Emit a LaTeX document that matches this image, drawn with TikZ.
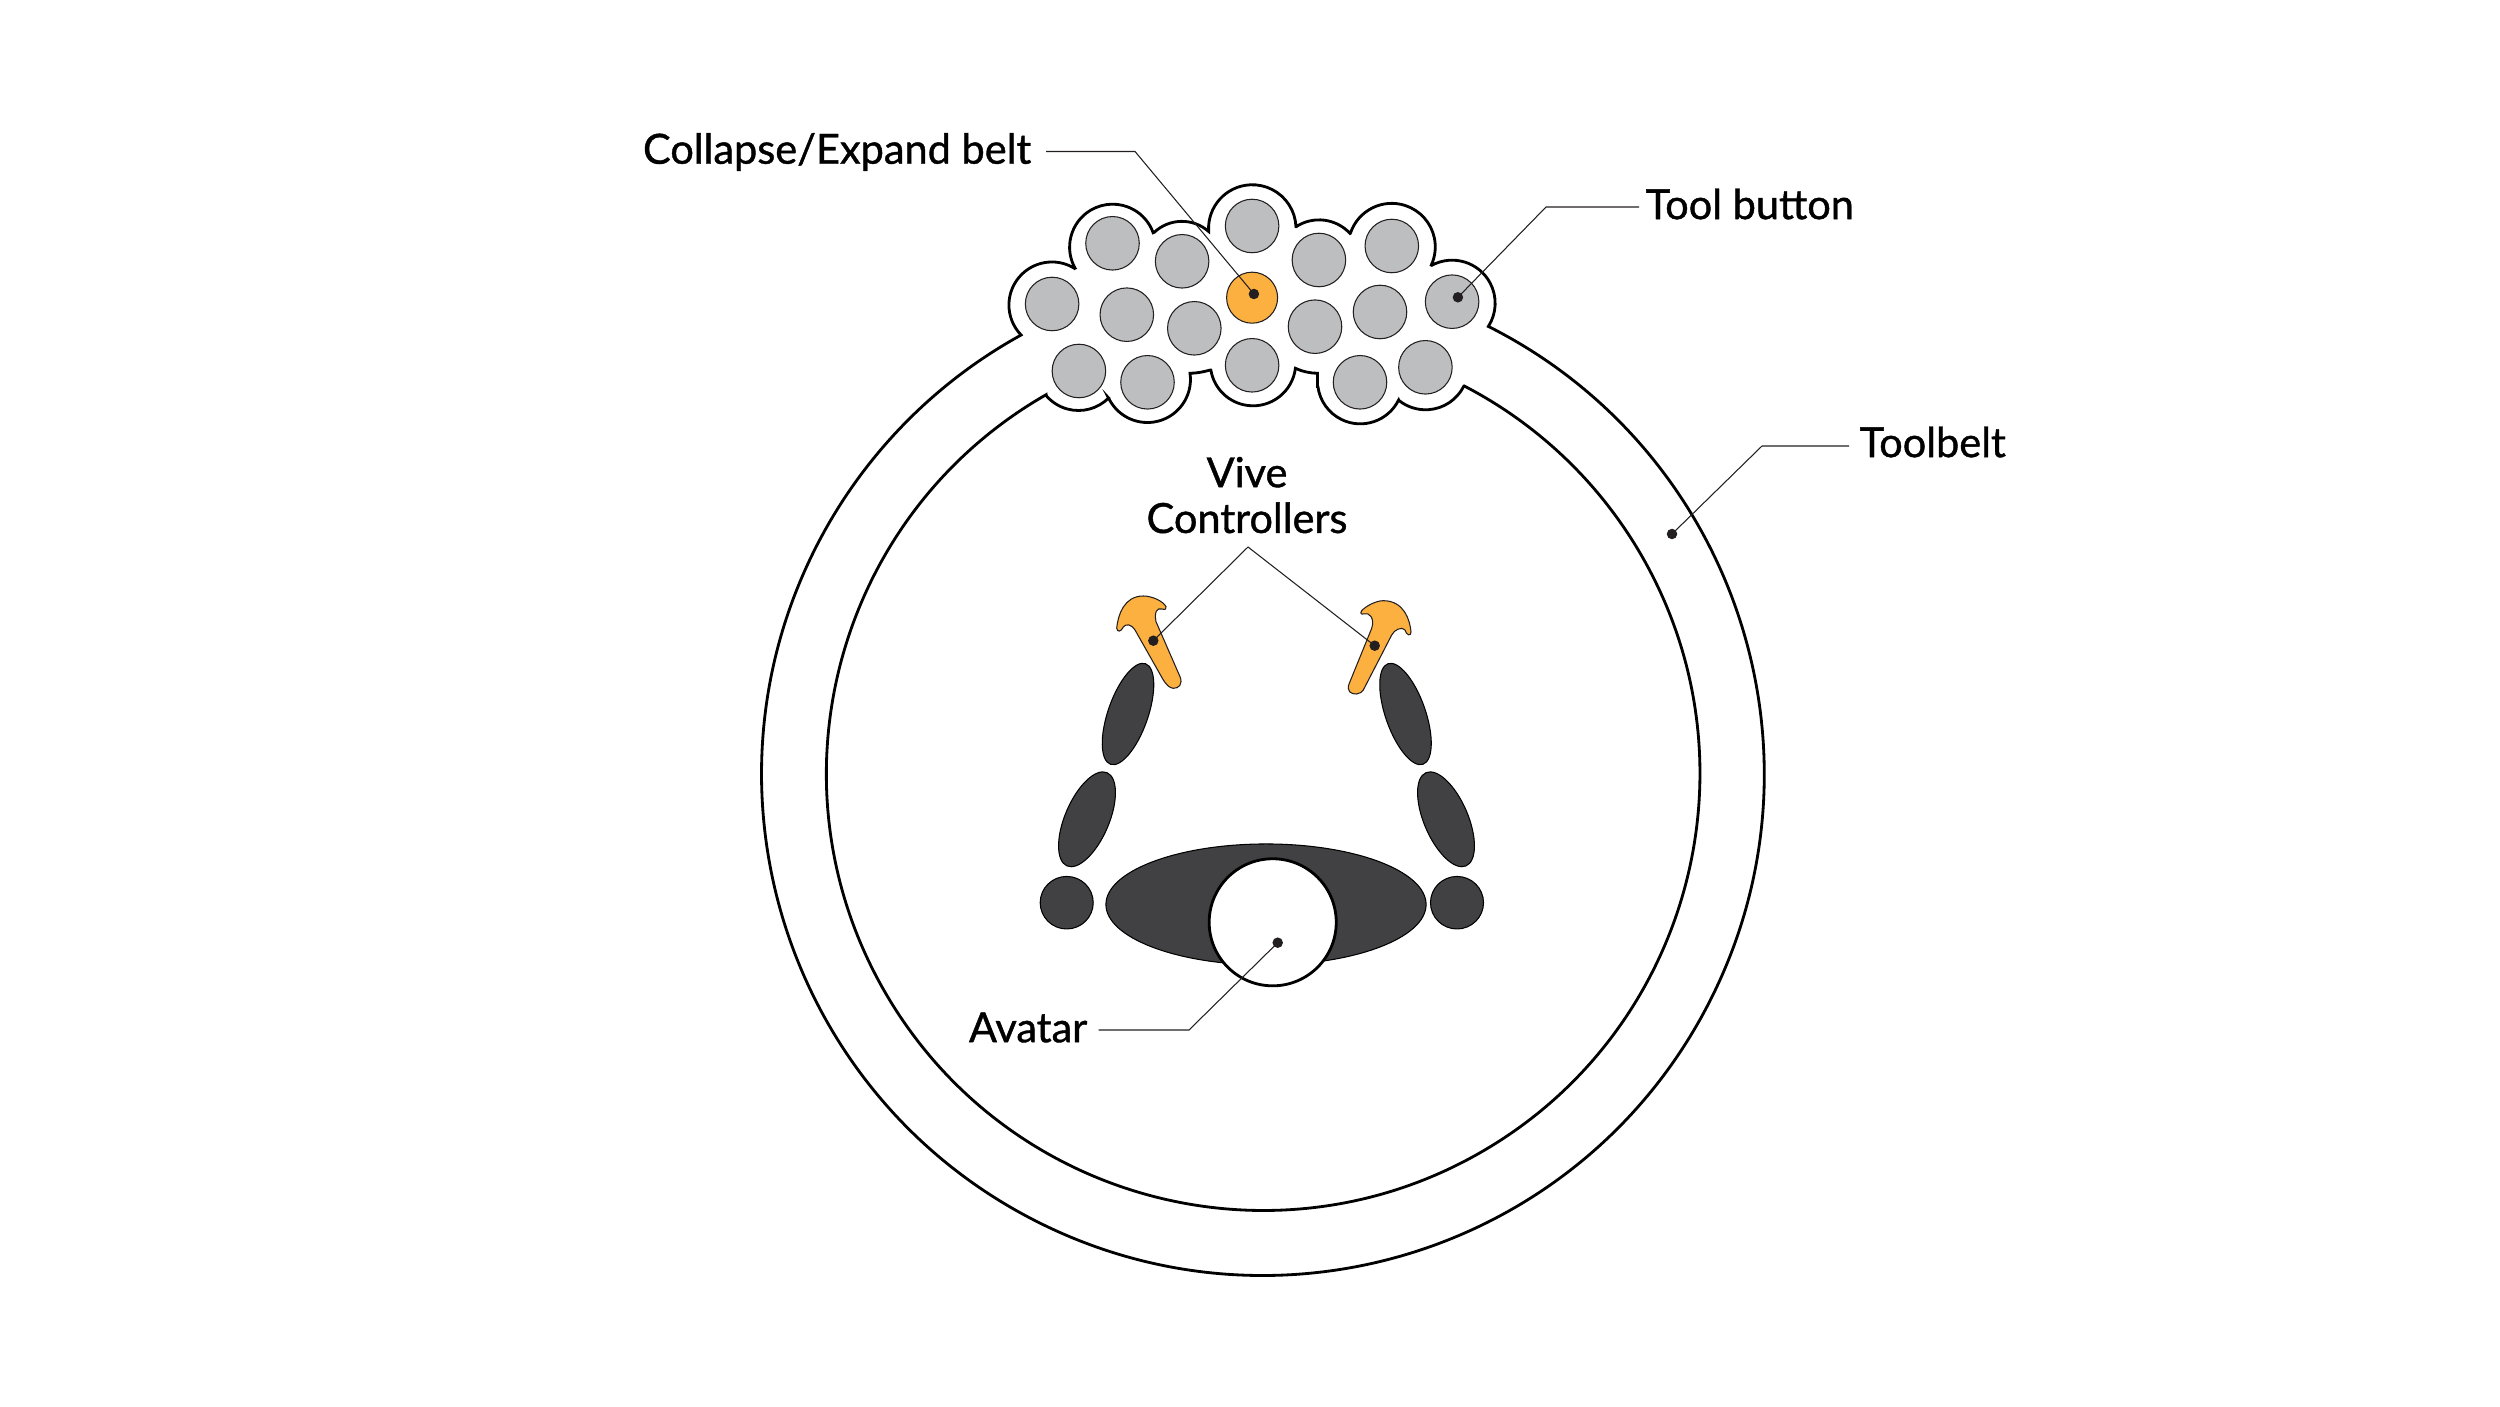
\documentclass[tikz,border=0pt]{standalone}
\usepackage{fontspec}
\setmainfont{Lato}
\newfontfamily\lblfont{Lato}[RawFeature={embolden=1.0}]
\usetikzlibrary{shapes.geometric}
\definecolor{buttonGray}{HTML}{BCBEC0}
\definecolor{accentOrange}{HTML}{FBB040}
\definecolor{bodyDark}{HTML}{414042}
\definecolor{inkBlack}{HTML}{231F20}
\tikzset{
  beltline/.style={draw=black,line width=0.8pt,fill=white,line join=miter},
  toolbtn/.style={circle,draw=inkBlack,line width=0.3pt,fill=buttonGray,inner sep=0pt,minimum size=0.535cm},
  limb/.style={ellipse,draw=black,line width=0.3pt,fill=bodyDark,inner sep=0pt},
  pointdot/.style={circle,fill=inkBlack,inner sep=0pt,minimum size=0.105cm},
  leader/.style={draw=inkBlack,line width=0.3pt},
  lbl/.style={font=\lblfont\fontsize{11.8}{13}\selectfont,text=black,inner sep=0pt,align=center},
}
\begin{document}
\begin{tikzpicture}[x=0.01cm,y=-0.01cm]
\path[use as bounding box] (0,0) rectangle (2500,1407);
% ring with the lobes of the belt
\draw[beltline] (1021.1,335) arc[start angle=224.2,end angle=56.6,radius=0.43cm]
  -- (1075.7,269.3) arc[start angle=210.9,end angle=19.6,radius=0.43cm]
  -- (1154.3,232.3) arc[start angle=133.2,end angle=48.5,radius=0.403cm]
  -- (1208.6,230.7) arc[start angle=182.9,end angle=2.4,radius=0.437cm]
  -- (1296.1,226.7) arc[start angle=123.1,end angle=42.5,radius=0.42cm]
  -- (1350.4,233.3) arc[start angle=161.8,end angle=-24.7,radius=0.435cm]
  -- (1431.8,265.3) arc[start angle=118.2,end angle=-32.7,radius=0.43cm]
  -- (1488.9,326.7) arc[start angle=63.2,end angle=-241.1,radius=5.01cm]
  -- cycle;
\draw[beltline] (1463.9,386) arc[start angle=-26.3,end angle=-129,radius=0.427cm]
  -- (1398.6,400) arc[start angle=-26.2,end angle=-172.4,radius=0.427cm]
  -- (1317.5,386.7) -- (1317.5,373.3) .. controls (1310,373.2) and (1302,371.5) .. (1295.4,368.3)
  arc[start angle=-7,end angle=-170.6,radius=0.427cm]
  -- (1210.4,370) .. controls (1203,372) and (1197,373.2) .. (1190,373.3)
  arc[start angle=8.3,end angle=-154.6,radius=0.43cm]
  -- (1108.6,398) arc[start angle=-44.9,end angle=-139.5,radius=0.425cm]
  -- (1046.1,394.7) arc[start angle=119.8,end angle=422.6,radius=4.365cm]
  -- cycle;
% tool buttons
\foreach \n/\px/\py in {1/1112.5/243.3,2/1182.1/261.3,3/1252.1/226,4/1318.9/260,5/1391.8/246,
  6/1052.1/304,7/1126.8/314.7,8/1194.3/328.3,9/1315/326.7,10/1380/312,11/1452.1/301.7,
  12/1078.9/371,13/1147.5/382.3,14/1252.1/365.3,15/1360/382.3,16/1425.4/367.3}{
  \node[toolbtn] (btn\n) at (\px,\py) {};
}
\node[toolbtn,fill=accentOrange,minimum size=0.51cm] (btnCollapse) at (1252.1,297.7) {};
% avatar
\node[limb,minimum width=3.2cm,minimum height=1.21cm] (torso) at (1266,904.5) {};
\node[circle,draw=black,line width=0.8pt,fill=white,inner sep=0pt,minimum size=1.27cm] (head) at (1272.7,922.3) {};
\node[limb,minimum width=0.53cm,minimum height=0.525cm] (handLeft) at (1066.7,902.7) {};
\node[limb,minimum width=0.53cm,minimum height=0.525cm] (handRight) at (1457,902.7) {};
\node[limb,minimum width=1.014cm,minimum height=0.44cm,rotate=66.8] (armLowLeft) at (1087,819.3) {};
\node[limb,minimum width=1.014cm,minimum height=0.44cm,rotate=113.2] (armLowRight) at (1446,819.3) {};
\node[limb,minimum width=1.064cm,minimum height=0.40cm,rotate=70.8] (armUpLeft) at (1128,714) {};
\node[limb,minimum width=1.064cm,minimum height=0.40cm,rotate=109.2] (armUpRight) at (1405.5,714) {};
% controllers
\draw[draw=inkBlack,line width=0.3pt,fill=accentOrange] (1166,606.7) .. controls (1167,609) and (1165,610) .. (1162,609)
  .. controls (1157,607.5) and (1154,612) .. (1156,621.7) -- (1180,676.7)
  .. controls (1183,684) and (1179,688.5) .. (1173.3,688.3) .. controls (1169,688) and (1166,684) .. (1163.3,680)
  -- (1135,630) .. controls (1131,624) and (1126,623.5) .. (1123.3,627) .. controls (1121,632) and (1117,632.5) .. (1116.7,628)
  .. controls (1118,615) and (1124,596) .. (1143.3,596) .. controls (1152,596) and (1163,601) .. (1166,606.7) -- cycle;
\draw[draw=inkBlack,line width=0.3pt,fill=accentOrange] (1361.7,610.7) .. controls (1360,613) and (1361,615) .. (1364,613.8)
  .. controls (1369,612) and (1375,618) .. (1371.7,628.3) -- (1349.3,683.3)
  .. controls (1346,691) and (1351,694.5) .. (1356.7,694) .. controls (1360,693.5) and (1362,692) .. (1363.3,690)
  -- (1391.7,635) .. controls (1394,630) and (1402,626) .. (1405,630) .. controls (1406,635) and (1411,637) .. (1411,632)
  .. controls (1410,620) and (1404,600.7) .. (1383.3,600.7) .. controls (1376,600.7) and (1366,606) .. (1361.7,610.7) -- cycle;
% labels
\node[lbl,anchor=east] (lblCollapse) at (1032,152) {Collapse/Expand belt};
\node[lbl,anchor=west] (lblTool) at (1645,204) {Tool button};
\node[lbl,anchor=west] (lblBelt) at (1859,442) {Toolbelt};
\node[lbl,anchor=south] (lblVive) at (1247,534) {Vive\\Controllers};
\node[lbl,anchor=east] (lblAvatar) at (1088,1027.5) {Avatar};
% leader ends
\coordinate (startCollapse) at (1046,151.5);
\coordinate (elbowCollapse) at (1135,151.5);
\coordinate (startTool) at (1639,207);
\coordinate (elbowTool) at (1546,207);
\coordinate (startBelt) at (1849,446);
\coordinate (elbowBelt) at (1762,446);
\coordinate (apexVive) at (1248,547);
\coordinate (startAvatar) at (1098.5,1030);
\coordinate (elbowAvatar) at (1189,1030);
\node[pointdot] (dotCollapse) at (1253.9,294) {};
\node[pointdot] (dotTool) at (1457.9,297.3) {};
\node[pointdot] (dotBelt) at (1672,534) {};
\node[pointdot] (dotViveLeft) at (1153.3,640.7) {};
\node[pointdot] (dotViveRight) at (1374.7,645.7) {};
\node[pointdot] (dotAvatar) at (1277.7,942.7) {};
\draw[leader] (startCollapse)--(elbowCollapse)--(dotCollapse.center);
\draw[leader] (startTool)--(elbowTool)--(dotTool.center);
\draw[leader] (startBelt)--(elbowBelt)--(dotBelt.center);
\draw[leader] (dotViveLeft.center)--(apexVive)--(dotViveRight.center);
\draw[leader] (startAvatar)--(elbowAvatar)--(dotAvatar.center);
\end{tikzpicture}
\end{document}
